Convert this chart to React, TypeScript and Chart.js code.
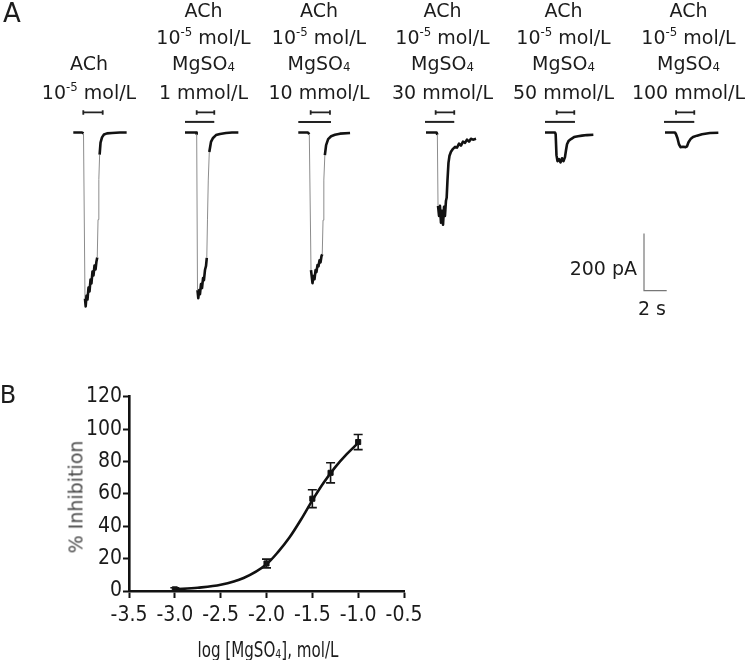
import React, { useEffect, useRef } from 'react';
import { Chart, registerables } from 'chart.js';

Chart.register(...registerables);

// ---------------- Panel A data: time (s from trace start), current (pA) ----------------
const TRACE1_TIME = [0, 0.77, 0.9, 1.03, 1.09, 1.16, 1.25, 1.34, 1.43, 1.52, 1.6, 1.69, 1.78, 1.87, 1.96, 2.04, 2.11, 2.18, 2.25, 2.32, 2.4, 2.53, 2.7, 2.97, 3.41, 4.11, 4.7];
const TRACE1_PA = [0, 0, -3, -580, -607, -570, -583, -541, -555, -513, -527, -485, -499, -464, -478, -450, -436, -304, -164, -77, -35, -17, -7, -3, -2, 0, 0];

const TRACE2_TIME = [0, 0.97, 1.03, 1.1, 1.17, 1.25, 1.32, 1.41, 1.5, 1.59, 1.67, 1.76, 1.85, 1.92, 1.98, 2.05, 2.14, 2.29, 2.47, 2.73, 3.08, 3.61, 4.14, 4.7];
const TRACE2_PA = [0, 0, -5, -550, -578, -550, -564, -529, -543, -508, -515, -480, -466, -438, -305, -166, -68, -33, -19, -9, -5, -2, 0, 0];

const TRACE3_TIME = [0, 0.85, 0.97, 1.12, 1.25, 1.34, 1.43, 1.52, 1.6, 1.69, 1.78, 1.87, 1.96, 2.04, 2.11, 2.18, 2.25, 2.34, 2.45, 2.63, 2.89, 3.23, 3.67, 4.56];
const TRACE3_PA = [0, 0, -6, -480, -526, -501, -512, -480, -487, -463, -467, -446, -453, -432, -425, -306, -166, -79, -44, -23, -13, -8, -4, -2];

const TRACE4_TIME = [0, 0.93, 1.0, 1.06, 1.15, 1.23, 1.32, 1.41, 1.5, 1.59, 1.67, 1.76, 1.82, 1.89, 1.98, 2.07, 2.2, 2.38, 2.56, 2.73, 2.91, 3.08, 3.26, 3.44, 3.61, 3.79, 3.96, 4.14, 4.41];
const TRACE4_PA = [0, 0, -8, -256, -291, -256, -315, -273, -322, -259, -291, -238, -228, -169, -106, -81, -67, -57, -50, -53, -39, -46, -32, -36, -25, -32, -22, -25, -22];

const TRACE5_TIME = [0, 0.88, 0.94, 1.01, 1.1, 1.23, 1.37, 1.5, 1.63, 1.76, 1.85, 1.94, 2.07, 2.29, 2.56, 2.91, 3.26, 3.7, 4.26];
const TRACE5_PA = [0, 0, -6, -79, -100, -93, -104, -90, -100, -86, -62, -41, -30, -23, -16, -13, -11, -9, -8];

const TRACE6_TIME = [0, 0.88, 0.97, 1.1, 1.23, 1.37, 1.59, 1.81, 1.94, 2.07, 2.25, 2.47, 2.82, 3.26, 3.96, 4.7];
const TRACE6_PA = [0, 0, -6, -20, -41, -51, -50, -51, -48, -34, -23, -16, -11, -6, -2, -1];

// Drug application bars (s from trace start)
const ACH_BAR_START = [0.88, 1.03, 1.09, 0.85, 1.03, 0.97];
const ACH_BAR_END = [2.59, 2.58, 2.79, 2.49, 2.58, 2.58];
const MG_BAR_START = [null, 0, 0, -0.09, 0, -0.09];
const MG_BAR_END = [null, 2.58, 2.88, 2.49, 2.64, 2.58];
const MG_CONC_LABELS = ['', '1 mmol/L', '10 mmol/L', '30 mmol/L', '50 mmol/L', '100 mmol/L'];

const SCALE_BAR_PA = 200;
const SCALE_BAR_S = 2;

// ---------------- Panel B data ----------------
const LOG_CONC = [-3.0, -2.0, -1.5, -1.301, -1.0];
const INHIBITION = [1.0, 17, 57, 73, 92];
const SEM = [1.0, 2.7, 5.5, 6.2, 4.7];
const FIT_LOG = [-3.0, -2.75, -2.5, -2.25, -2.0, -1.875, -1.75, -1.625, -1.5, -1.375, -1.25, -1.125, -1.0];
const FIT_INHIB = [1.0, 2.0, 3.8, 8.0, 16.5, 24, 33, 44, 56, 67, 76.5, 84.5, 91.5];
const X_MIN = -3.5, X_MAX = -0.5, X_STEP = 0.5;
const Y_MIN = 0, Y_MAX = 120, Y_STEP = 20;

// ---------------- layout ----------------
const W = 750;
const A_H = 340;
const B_TOP = 340;
const B_H = 320;
const PX_PER_S = 11.35;
const PX_PER_PA = 0.2865;
const BASE_Y = 132.5;
const TRACE_X0 = [73.3, 185, 298.3, 426, 545, 665];
const LABEL_CX = [89, 203.5, 319, 442.5, 563.5, 688.5];
const ROW_Y = [10, 37, 62.5, 92];
const ACH_BAR_LEVEL = 70;
const MG_BAR_LEVEL = 37;
const CAP_PA = 8;
const SCALE_CORNER_X = 644;
const SCALE_CORNER_Y = 290.7;

const TEXT_FONT = '"DejaVu Sans", sans-serif';
const NARROW_FONT = '"Liberation Sans Narrow", "DejaVu Sans Condensed", "Liberation Sans", sans-serif';

const TRACES = [
  [TRACE1_TIME, TRACE1_PA],
  [TRACE2_TIME, TRACE2_PA],
  [TRACE3_TIME, TRACE3_PA],
  [TRACE4_TIME, TRACE4_PA],
  [TRACE5_TIME, TRACE5_PA],
  [TRACE6_TIME, TRACE6_PA],
];

const steep = (c: any) => {
  const dx = Math.abs(c.p1.x - c.p0.x);
  const dy = Math.abs(c.p1.y - c.p0.y);
  return dy > 24 && dy > 3 * dx;
};

const errorBarPlugin = {
  id: 'errorBars',
  afterDatasetsDraw(chart: any) {
    const { ctx } = chart;
    const xs = chart.scales.x;
    const ys = chart.scales.y;
    ctx.save();
    ctx.strokeStyle = '#151515';
    ctx.lineWidth = 1.6;
    LOG_CONC.forEach((c, i) => {
      const px = xs.getPixelForValue(c);
      const top = ys.getPixelForValue(INHIBITION[i] + SEM[i]);
      const bot = ys.getPixelForValue(INHIBITION[i] - SEM[i]);
      ctx.beginPath();
      ctx.moveTo(px, top);
      ctx.lineTo(px, bot);
      ctx.moveTo(px - 4.5, top);
      ctx.lineTo(px + 4.5, top);
      ctx.moveTo(px - 4.5, bot);
      ctx.lineTo(px + 4.5, bot);
      ctx.stroke();
    });
    ctx.restore();
  },
};

const SUP: React.CSSProperties = { fontSize: '0.62em', verticalAlign: '0.6em', lineHeight: 0 };
const SUB: React.CSSProperties = { fontSize: '0.62em', verticalAlign: '-0.12em', lineHeight: 0 };

function Txt(props: { x: number; y: number; children: any; style?: React.CSSProperties }) {
  return (
    <div
      style={{
        position: 'absolute',
        left: props.x,
        top: props.y,
        transform: 'translate(-50%, -50%)',
        whiteSpace: 'nowrap',
        fontFamily: TEXT_FONT,
        fontSize: 19,
        lineHeight: 1,
        color: '#1c1c1c',
        ...props.style,
      }}
    >
      {props.children}
    </div>
  );
}

export default function App() {
  const aRef = useRef<HTMLCanvasElement>(null);
  const bRef = useRef<HTMLCanvasElement>(null);

  useEffect(() => {
    const off = (k: number) => TRACE_X0[k] / PX_PER_S;
    const dsA: any[] = [];
    TRACES.forEach(([ts, is], k) => {
      dsA.push({
        data: ts.map((t, j) => ({ x: t + off(k), y: is[j] })),
        showLine: true,
        pointRadius: 0,
        borderColor: '#121212',
        borderWidth: 2.6,
        tension: 0,
        borderJoinStyle: 'round',
        segment: {
          borderColor: (c: any) => (steep(c) ? '#8c8c8c' : undefined),
          borderWidth: (c: any) => (steep(c) ? 1 : undefined),
        },
      });
      const s = ACH_BAR_START[k] + off(k);
      const e = ACH_BAR_END[k] + off(k);
      dsA.push({
        data: [
          { x: s, y: ACH_BAR_LEVEL - CAP_PA },
          { x: s, y: ACH_BAR_LEVEL + CAP_PA },
          { x: s, y: ACH_BAR_LEVEL },
          { x: e, y: ACH_BAR_LEVEL },
          { x: e, y: ACH_BAR_LEVEL + CAP_PA },
          { x: e, y: ACH_BAR_LEVEL - CAP_PA },
        ],
        showLine: true,
        pointRadius: 0,
        borderColor: '#222',
        borderWidth: 1.8,
        tension: 0,
      });
      if (MG_BAR_START[k] !== null) {
        dsA.push({
          data: [
            { x: (MG_BAR_START[k] as number) + off(k), y: MG_BAR_LEVEL },
            { x: (MG_BAR_END[k] as number) + off(k), y: MG_BAR_LEVEL },
          ],
          showLine: true,
          pointRadius: 0,
          borderColor: '#222',
          borderWidth: 2,
          tension: 0,
        });
      }
    });
    const sbX = SCALE_CORNER_X / PX_PER_S;
    const sbY = -(SCALE_CORNER_Y - BASE_Y) / PX_PER_PA;
    dsA.push({
      data: [
        { x: sbX, y: sbY + SCALE_BAR_PA },
        { x: sbX, y: sbY },
        { x: sbX + SCALE_BAR_S, y: sbY },
      ],
      showLine: true,
      pointRadius: 0,
      borderColor: '#777',
      borderWidth: 1.2,
      tension: 0,
    });

    const chartA = new Chart(aRef.current as HTMLCanvasElement, {
      type: 'scatter',
      data: { datasets: dsA },
      options: {
        responsive: false,
        animation: false,
        devicePixelRatio: 1,
        layout: { padding: 0 },
        plugins: { legend: { display: false }, tooltip: { enabled: false } },
        scales: {
          x: { type: 'linear', display: false, min: 0, max: W / PX_PER_S },
          y: { type: 'linear', display: false, min: -(A_H - BASE_Y) / PX_PER_PA, max: BASE_Y / PX_PER_PA },
        },
      } as any,
    });

    const tickFont = { family: NARROW_FONT, size: 21 };
    const chartB = new Chart(bRef.current as HTMLCanvasElement, {
      type: 'scatter',
      data: {
        datasets: [
          {
            data: FIT_LOG.map((x, i) => ({ x, y: FIT_INHIB[i] })),
            showLine: true,
            pointRadius: 0,
            borderColor: '#111',
            borderWidth: 2.6,
            cubicInterpolationMode: 'monotone',
          },
          {
            data: LOG_CONC.map((x, i) => ({ x, y: INHIBITION[i] })),
            showLine: false,
            pointStyle: 'rect',
            pointRadius: 3.6,
            backgroundColor: '#111',
            borderColor: '#111',
            borderWidth: 1,
          },
        ],
      },
      options: {
        responsive: false,
        animation: false,
        devicePixelRatio: 1,
        layout: { padding: { left: 0, top: 56.7, right: W - 404, bottom: 0 } },
        plugins: { legend: { display: false }, tooltip: { enabled: false } },
        scales: {
          x: {
            type: 'linear',
            min: X_MIN,
            max: X_MAX,
            afterFit: (s: any) => { s.height = 69; },
            ticks: {
              stepSize: X_STEP,
              font: tickFont,
              color: '#1a1a1a',
              padding: 5,
              callback: (v: any) => Number(v).toFixed(1),
            },
            grid: { drawOnChartArea: false, drawTicks: true, tickLength: 7, tickWidth: 2, tickColor: '#111' },
            border: { display: true, color: '#111', width: 2.6 },
          },
          y: {
            type: 'linear',
            min: Y_MIN,
            max: Y_MAX,
            afterFit: (s: any) => { s.width = 129; },
            ticks: { stepSize: Y_STEP, font: tickFont, color: '#1a1a1a', padding: 1 },
            grid: { drawOnChartArea: false, drawTicks: true, tickLength: 6, tickWidth: 2, tickColor: '#111' },
            border: { display: true, color: '#111', width: 2.6 },
          },
        },
      } as any,
      plugins: [errorBarPlugin],
    });

    return () => {
      chartA.destroy();
      chartB.destroy();
    };
  }, []);

  const labels = LABEL_CX.map((cx, k) => {
    const rows: any[] = [
      'ACh',
      <span>10<span style={SUP}>-5</span> mol/L</span>,
    ];
    if (k > 0) {
      rows.push(<span>MgSO<span style={SUB}>4</span></span>);
      rows.push(MG_CONC_LABELS[k]);
    }
    const ys = ROW_Y.slice(ROW_Y.length - rows.length);
    return rows.map((r, j) => (
      <Txt key={`l${k}-${j}`} x={cx} y={ys[j]}>{r}</Txt>
    ));
  });

  return (
    <div style={{ position: 'fixed', left: 0, top: 0, width: W, height: 660, background: '#fff', overflow: 'hidden' }}>
      <canvas ref={aRef} width={W} height={A_H} style={{ position: 'absolute', left: 0, top: 0, width: W, height: A_H }} />
      <canvas ref={bRef} width={W} height={B_H} style={{ position: 'absolute', left: 0, top: B_TOP, width: W, height: B_H }} />
      <Txt x={12} y={13} style={{ fontSize: 26 }}>A</Txt>
      <Txt x={8} y={395} style={{ fontSize: 24 }}>B</Txt>
      {labels}
      <div style={{ position: 'absolute', right: W - 637, top: 267.5, transform: 'translateY(-50%)', fontFamily: TEXT_FONT, fontSize: 19, lineHeight: 1, color: '#1c1c1c', whiteSpace: 'nowrap' }}>200 pA</div>
      <Txt x={652} y={308}>2 s</Txt>
      <Txt x={76} y={497} style={{ transform: 'translate(-50%, -50%) rotate(-90deg)', color: '#4a4a4a' }}>% Inhibition</Txt>
      <Txt x={268} y={650} style={{ fontFamily: NARROW_FONT, fontSize: 21, transform: 'translate(-50%, -50%) scaleX(0.8)' }}>
        log [MgSO<span style={SUB}>4</span>], mol/L
      </Txt>
    </div>
  );
}
